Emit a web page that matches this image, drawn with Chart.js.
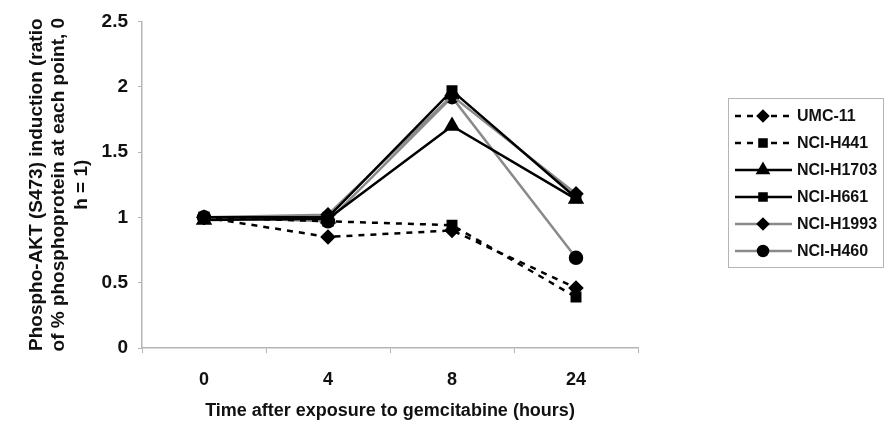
<!DOCTYPE html>
<html>
<head>
<meta charset="utf-8">
<script src="https://cdn.jsdelivr.net/npm/chart.js@4/dist/chart.umd.min.js"></script>
<style>
  html, body { margin: 0; padding: 0; background: #fff; }
  #wrap { width: 887px; height: 422px; position: relative; }
</style>
</head>
<body>
<div id="wrap"><canvas id="grafico"></canvas></div>
<script>
// categorias y datos
const horas = ['0', '4', '8', '24'];
const umc11 = [1.0, 0.85, 0.90, 0.46];
const h441 = [1.0, 0.97, 0.94, 0.39];
const h1703 = [0.98, 0.99, 1.70, 1.14];
const h661 = [1.0, 1.0, 1.97, 1.15];
const h1993 = [1.0, 1.02, 1.93, 1.18];
const h460 = [1.0, 0.97, 1.92, 0.69];
const yTicks = [0, 0.5, 1, 1.5, 2, 2.5];

const negro = '#000000';
const gris = '#8a8a8a';
const fuente = '"Liberation Sans", Arial, sans-serif';

function serie(label, data, color, estilo, dash, radio) {
    return {
        label: label,
        data: data,
        borderColor: color,
        backgroundColor: negro,
        pointBackgroundColor: negro,
        pointBorderColor: negro,
        borderWidth: 2.5,
        borderDash: dash,
        pointStyle: estilo,
        pointRadius: radio,
        pointHoverRadius: radio,
        tension: 0,
        fill: false
    };
}

// leyenda propia con linea + marcador
const leyenda = {
    id: 'leyenda',
    afterDraw(chart) {
        const ctx = chart.ctx;
        const x0 = 728, y0 = 98, w = 155, h = 169;
        ctx.save();
        ctx.strokeStyle = '#b5b5b5';
        ctx.lineWidth = 1;
        ctx.strokeRect(x0 + 0.5, y0 + 0.5, w, h);
        chart.data.datasets.forEach((ds, i) => {
            const y = 116 + i * 27;
            ctx.strokeStyle = ds.borderColor;
            ctx.lineWidth = 2.5;
            ctx.setLineDash(ds.borderDash || []);
            ctx.beginPath();
            ctx.moveTo(735, y);
            ctx.lineTo(792, y);
            ctx.stroke();
            ctx.setLineDash([]);
            ctx.fillStyle = negro;
            ctx.strokeStyle = negro;
            Chart.helpers.drawPoint(ctx, {
                pointStyle: ds.pointStyle,
                radius: ds.pointRadius - 1,
                rotation: 0,
                borderWidth: 1
            }, 763, y);
            ctx.fillStyle = '#111';
            ctx.font = 'bold 16px ' + fuente;
            ctx.textBaseline = 'middle';
            ctx.textAlign = 'left';
            ctx.fillText(ds.label, 797, y + 1);
        });
        ctx.restore();
    }
};

const ctx = document.getElementById('grafico').getContext('2d');
const grafico = new Chart(ctx, {
    type: 'line',
    data: {
        labels: horas,
        datasets: [
            serie('UMC-11', umc11, negro, 'rectRot', [6, 6], 6),
            serie('NCI-H441', h441, negro, 'rect', [6, 6], 6),
            serie('NCI-H1703', h1703, negro, 'triangle', [], 7),
            serie('NCI-H661', h661, negro, 'rect', [], 6),
            serie('NCI-H1993', h1993, gris, 'rectRot', [], 6),
            serie('NCI-H460', h460, gris, 'circle', [], 6)
        ]
    },
    options: {
        responsive: true,
        maintainAspectRatio: false,
        animation: false,
        layout: { padding: { left: 0, right: 249, top: 18, bottom: 0 } },
        plugins: {
            legend: { display: false },
            tooltip: { enabled: false }
        },
        scales: {
            x: {
                type: 'category',
                offset: true,
                grid: {
                    offset: true,
                    drawOnChartArea: false,
                    drawTicks: true,
                    tickLength: 5,
                    color: '#b5b5b5'
                },
                border: { color: '#b5b5b5', width: 1.5 },
                ticks: {
                    color: '#111',
                    padding: 16,
                    font: { family: fuente, size: 18, weight: 'bold' }
                },
                title: {
                    display: true,
                    text: 'Time after exposure to gemcitabine (hours)',
                    color: '#111',
                    padding: { top: 6, bottom: 0 },
                    font: { family: fuente, size: 18, weight: 'bold' }
                },
                afterFit(scale) { scale.height = 74; }
            },
            y: {
                min: 0,
                max: 2.5,
                afterBuildTicks(scale) {
                    scale.ticks = yTicks.map(v => ({ value: v }));
                },
                grid: {
                    drawOnChartArea: false,
                    drawTicks: true,
                    tickLength: 4,
                    color: '#b5b5b5'
                },
                border: { color: '#b5b5b5', width: 1.5 },
                ticks: {
                    color: '#111',
                    padding: 10,
                    font: { family: fuente, size: 19, weight: 'bold' },
                    callback: (v) => String(v)
                },
                title: {
                    display: true,
                    text: ['Phospho-AKT (S473) induction (ratio', 'of % phosphoprotein at each point, 0', 'h = 1)'],
                    color: '#111',
                    padding: { top: 25, bottom: 0 },
                    font: { family: fuente, size: 19, weight: 'bold', lineHeight: 1.2 }
                },
                afterFit(scale) { scale.width = 142; }
            }
        }
    },
    plugins: [leyenda]
});
</script>
</body>
</html>
